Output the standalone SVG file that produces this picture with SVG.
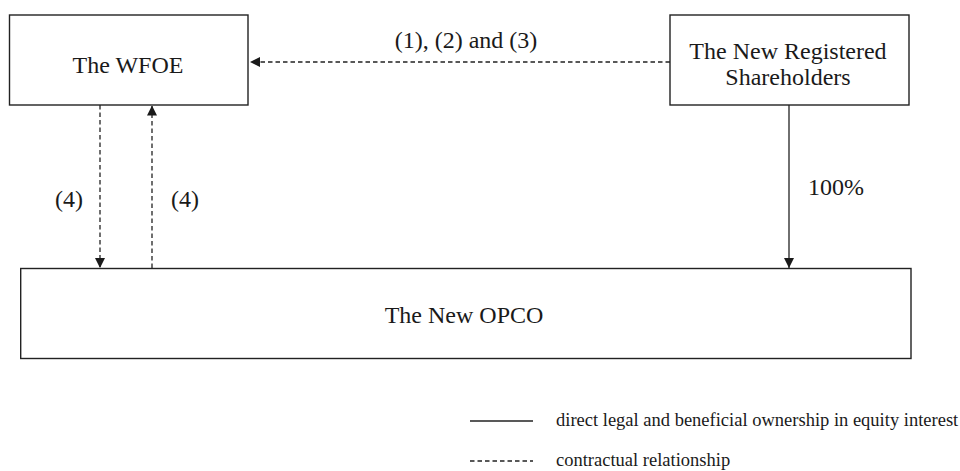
<svg xmlns="http://www.w3.org/2000/svg" width="960" height="471" viewBox="0 0 960 471">
<style>
.box{fill:#fff;stroke:#222;stroke-width:1.4}
.solid{stroke:#222;stroke-width:1.3;fill:none}
.dash{stroke:#222;stroke-width:1.3;fill:none;stroke-dasharray:4.5 3}
</style>
<defs>
<marker id="ah" viewBox="0 0 10 10" refX="10" refY="5" markerWidth="10" markerHeight="10" markerUnits="userSpaceOnUse" orient="auto">
<path d="M0,0 L10,5 L0,10 Z" fill="#1a1a1a"/>
</marker>
</defs>
<rect width="960" height="471" fill="#fff"/>
<g font-family="'Liberation Serif', 'Times New Roman', serif" fill="#1a1a1a">
<g id="wfoe">
<rect class="box" x="9.5" y="15" width="238.5" height="90"/>
<text font-size="24" x="128" y="73" text-anchor="middle">The WFOE</text>
</g>
<g id="shareholders">
<rect class="box" x="670" y="15" width="239" height="90"/>
<text font-size="24" x="788" y="59" text-anchor="middle">The New Registered</text>
<text font-size="24" x="788" y="85" text-anchor="middle">Shareholders</text>
</g>
<g id="opco">
<rect class="box" x="20.7" y="268.5" width="890.3" height="90"/>
<text font-size="24" x="464" y="323" text-anchor="middle">The New OPCO</text>
</g>
<g id="connectors">
<line class="dash" x1="670" y1="62" x2="250" y2="62" marker-end="url(#ah)"/>
<text font-size="24" x="466" y="48" text-anchor="middle">(1), (2) and (3)</text>
<line class="dash" x1="100" y1="105" x2="100" y2="268" marker-end="url(#ah)"/>
<text font-size="24" x="69" y="207" text-anchor="middle">(4)</text>
<line class="dash" x1="152" y1="268" x2="152" y2="105.5" marker-end="url(#ah)"/>
<text font-size="24" x="185" y="207" text-anchor="middle">(4)</text>
<line class="solid" x1="789" y1="105" x2="789" y2="268" marker-end="url(#ah)"/>
<text font-size="24" x="808" y="195">100%</text>
</g>
<g id="legend">
<line class="solid" x1="470" y1="421" x2="533" y2="421"/>
<text font-size="18.5" x="556" y="426">direct legal and beneficial ownership in equity interest</text>
<line class="dash" x1="470" y1="461" x2="533" y2="461"/>
<text font-size="18.5" x="556" y="466">contractual relationship</text>
</g>
</g>
</svg>
